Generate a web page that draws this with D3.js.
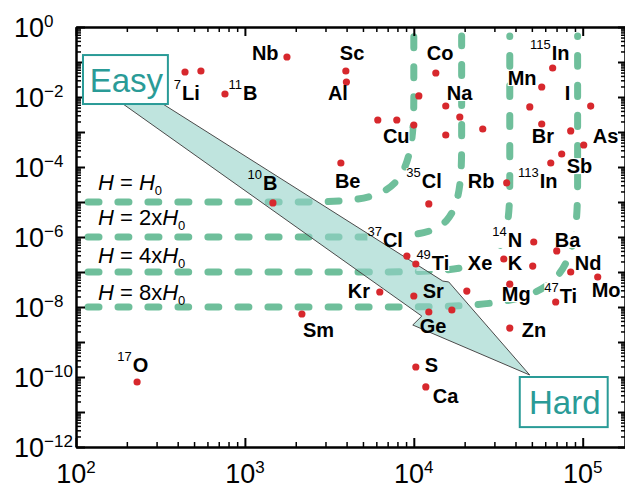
<!DOCTYPE html>
<html>
<head>
<meta charset="utf-8">
<script src="https://cdn.jsdelivr.net/npm/d3@7/dist/d3.min.js"></script>
<style>
  body { margin: 0; background: #fff; }
  svg { display: block; }
  text { font-family: 'Liberation Sans', Arial, sans-serif; }
</style>
</head>
<body>
<div id="chart-1"></div>
<script>
// red points, [x, y]
let points = [
  [442, 0.0518], [549, 0.0553], [762, 0.0122], [1774, 0.139], [1465, 9.4e-6],
  [3960, 0.0553], [3990, 0.0268], [6120, 2.2e-3], [7930, 2.2e-3], [10000, 1.58e-3],
  [10710, 0.0107], [13500, 0.0485], [15460, 5.53e-3], [18720, 2.68e-3], [15460, 8.2e-4],
  [25600, 1.22e-3], [3700, 1.3e-4], [12270, 8.8e-6], [35500, 3.5e-5], [64700, 1.3e-4],
  [57200, 0.0193], [66400, 0.0674], [111500, 5.5e-3], [48600, 5.2e-3], [57200, 1.69e-3],
  [84900, 1.07e-3], [101400, 4.25e-4], [75100, 2.35e-4], [51300, 7.2e-7], [70200, 4.0e-7],
  [9100, 2.86e-7], [10280, 1.69e-7], [34100, 2.35e-7], [50600, 1.48e-7], [84900, 1e-7],
  [122700, 7.2e-8], [37000, 4.5e-8], [69200, 1.39e-8], [6290, 2.68e-8], [10000, 2.06e-8],
  [20600, 2.86e-8], [12270, 7.2e-9], [16800, 8.2e-9], [2175, 6.3e-9], [37000, 2.5e-9],
  [10280, 1.93e-10], [11780, 5.2e-11], [230, 7.2e-11]
]

// element names: [mass number, symbol, x, y of the label]
let elements = [
  ['', 'Nb', 1100, 0.114], ['', 'Sc', 3650, 0.114], ['', 'Co', 11940, 0.114],
  ['115', 'In', 65600, 0.114], ['7', 'Li', 424, 8.2e-3], ['11', 'B', 973, 8.2e-3],
  ['', 'Al', 3100, 8.2e-3], ['', 'Na', 15680, 8.2e-3], ['', 'Mn', 35970, 0.022],
  ['', 'I', 78200, 8.2e-3], ['', 'Cu', 6560, 4.85e-4], ['', 'Br', 49900, 4.85e-4],
  ['', 'As', 114600, 4.85e-4], ['', 'Sb', 80400, 6.7e-5], ['10', 'B', 1278, 2.2e-5],
  ['', 'Be', 3410, 2.5e-5], ['35', 'Cl', 11150, 2.5e-5], ['', 'Rb', 20880, 2.5e-5],
  ['113', 'In', 55700, 2.5e-5], ['37', 'Cl', 6560, 5.2e-7], ['14', 'N', 35970, 5.2e-7],
  ['', 'Ba', 68300, 5.2e-7], ['49', 'Ti', 12790, 1.14e-7], ['', 'Xe', 20880, 1.14e-7],
  ['', 'K', 35970, 1.14e-7], ['', 'Nd', 89700, 1.14e-7], ['', 'Mo', 113000, 1.93e-8],
  ['', 'Kr', 4070, 1.81e-8], ['', 'Sr', 11300, 1.81e-8], ['', 'Mg', 33200, 1.48e-8],
  ['47', 'Ti', 73100, 1.3e-8], ['', 'Sm', 2205, 1.39e-9], ['', 'Ge', 10850, 1.81e-9],
  ['', 'Zn', 43550, 1.39e-9], ['', 'S', 11610, 1.39e-10], ['', 'Ca', 12950, 1.81e-11],
  ['17', 'O', 217, 1.39e-10]
]

// H = n x H0 boundaries
let fieldLevels = ['', '2x', '4x', '8x']
let fieldLabelPos = [[135, 2.2e-5], [135, 2.2e-6], [135, 1.81e-7], [135, 1.58e-8]]
let fieldCurves = [
  [[100, 1e-5], [2265, 1e-5], [1e4, 1e-5], [1e4, 0.0268], [1e4, 0.55]],
  [[100, 1e-6], [5640, 1e-6], [19200, 1e-6], [19200, 7.2e-4], [19200, 0.55]],
  [[100, 1e-7], [7210, 1e-7], [37000, 1e-7], [37000, 3.73e-5], [37000, 0.55]],
  [[100, 1e-8], [8040, 1e-8], [93300, 1e-8], [93300, 5.9e-5], [93300, 0.55]]
]

// Easy -> Hard arrow and the two boxes
let arrowShape = [
  [190, 6.3e-3], [327, 6.3e-3], [14850, 5.5e-8], [16100, 5.2e-8],
  [48560, 1.14e-10], [9860, 3.06e-9], [11150, 5.5e-9]
]
let boxes = [
  ['Easy', 110, 0.158, 350, 6.3e-3],
  ['Hard', 42400, 1e-10, 140600, 3.7e-12]
]

let xTickExp = [2, 3, 4, 5]
let yTickExp = [0, -2, -4, -6, -8, -10, -12]

let margin = { top: 27, left: 76, right: 0, bottom: 41 }
let width = 625 - margin.left - margin.right
let height = 488 - margin.top - margin.bottom

let svg = d3
  .select('#chart-1')
  .append('svg')
  .attr('width', 625)
  .attr('height', 488)
  .append('g')
  .attr('transform', 'translate(' + margin.left + ',' + margin.top + ')')

let xPositionScale = d3.scaleLog().domain([1e2, 1.78e5]).range([0, width])
let yPositionScale = d3.scaleLog().domain([1e-12, 1]).range([height, 0])

let green = '#6fbf9b'
let teal = '#2a9b97'
let narrow = "'Liberation Sans Narrow', 'Liberation Sans', Arial, sans-serif"

// dashed boundaries
let line = d3
  .line()
  .x(d => xPositionScale(d[0]))
  .y(d => yPositionScale(d[1]))
  .curve(d3.curveBasis)

svg
  .append('g')
  .selectAll('path')
  .data(fieldCurves)
  .enter()
  .append('path')
  .attr('d', line)
  .attr('fill', 'none')
  .attr('stroke', green)
  .attr('stroke-width', 7)
  .attr('stroke-linecap', 'round')
  .attr('stroke-dasharray', '11 19')
  .attr('stroke-dashoffset', 18)

let bgLayer = svg.append('g')

// arrow
let straight = d3
  .line()
  .x(d => xPositionScale(d[0]))
  .y(d => yPositionScale(d[1]))

svg
  .append('path')
  .attr('d', straight(arrowShape) + 'Z')
  .attr('fill', '#94d2c8')
  .attr('fill-opacity', 0.6)
  .attr('stroke', '#4a4a4a')
  .attr('stroke-width', 1)

// axes
let xMajor = xTickExp.map(e => Math.pow(10, e))
let xMinor = xMajor
  .flatMap(m => d3.range(2, 10).map(k => k * m))
  .filter(v => v < 1.78e5)
let yMajor = d3.range(-12, 1).map(e => Math.pow(10, e))
let yMinor = yMajor.slice(0, -1).flatMap(m => d3.range(2, 10).map(k => k * m))

function drawAxis(axisFn, scale, values, size, transform) {
  let g = svg
    .append('g')
    .attr('transform', transform)
    .call(
      axisFn(scale)
        .tickValues(values)
        .tickSize(-size)
        .tickSizeOuter(0)
        .tickFormat('')
    )
  g.select('.domain').attr('stroke', '#000').attr('stroke-width', 2)
  g.selectAll('.tick line').attr('stroke', '#000').attr('stroke-width', size > 6 ? 2 : 1.5)
}

drawAxis(d3.axisBottom, xPositionScale, xMinor, 5, 'translate(0,' + height + ')')
drawAxis(d3.axisBottom, xPositionScale, xMajor, 9, 'translate(0,' + height + ')')
drawAxis(d3.axisTop, xPositionScale, xMinor, 5, 'translate(0,0)')
drawAxis(d3.axisTop, xPositionScale, xMajor, 9, 'translate(0,0)')
drawAxis(d3.axisLeft, yPositionScale, yMinor, 5, 'translate(0,0)')
drawAxis(d3.axisLeft, yPositionScale, yMajor, 9, 'translate(0,0)')
drawAxis(d3.axisRight, yPositionScale, yMinor, 4, 'translate(' + width + ',0)')
drawAxis(d3.axisRight, yPositionScale, yMajor, 7, 'translate(' + width + ',0)')

svg
  .append('g')
  .selectAll('text')
  .data(xTickExp)
  .enter()
  .append('text')
  .attr('x', d => xPositionScale(Math.pow(10, d)))
  .attr('y', height + 36)
  .attr('text-anchor', 'middle')
  .style('font-family', narrow)
  .attr('font-size', 27)
  .each(function (d) {
    let t = d3.select(this)
    t.append('tspan').text('10')
    t.append('tspan').attr('dy', -10).attr('font-size', 17).text(d)
  })

svg
  .append('g')
  .selectAll('text')
  .data(yTickExp)
  .enter()
  .append('text')
  .attr('x', -62)
  .attr('y', d => yPositionScale(Math.pow(10, d)) + 10)
  .style('font-family', narrow)
  .attr('font-size', 27)
  .each(function (d) {
    let t = d3.select(this)
    t.append('tspan').text('10')
    t.append('tspan')
      .attr('dy', -10)
      .attr('font-size', 17)
      .text(d < 0 ? '\u2212' + -d : d)
  })

// field labels
svg
  .append('g')
  .selectAll('text')
  .data(fieldLevels)
  .enter()
  .append('text')
  .attr('x', (d, i) => xPositionScale(fieldLabelPos[i][0]))
  .attr('y', (d, i) => yPositionScale(fieldLabelPos[i][1]))
  .attr('font-size', 22)
  .style('white-space', 'pre')
  .each(function (d) {
    let t = d3.select(this)
    t.append('tspan').attr('font-style', 'italic').text('H')
    t.append('tspan').text(' = ' + d)
    t.append('tspan').attr('font-style', 'italic').text('H')
    t.append('tspan').attr('dy', 5).attr('font-size', 13).text('0')
  })

// Easy / Hard boxes
let boxG = svg
  .append('g')
  .selectAll('g')
  .data(boxes)
  .enter()
  .append('g')

boxG
  .append('rect')
  .attr('x', d => xPositionScale(d[1]))
  .attr('y', d => yPositionScale(d[2]))
  .attr('width', d => xPositionScale(d[3]) - xPositionScale(d[1]))
  .attr('height', d => yPositionScale(d[4]) - yPositionScale(d[2]))
  .attr('fill', '#fff')
  .attr('stroke', teal)
  .attr('stroke-width', 2)

boxG
  .append('text')
  .attr('x', d => (xPositionScale(d[1]) + xPositionScale(d[3])) / 2 + 1)
  .attr('y', d => (yPositionScale(d[2]) + yPositionScale(d[4])) / 2 + 12)
  .attr('text-anchor', 'middle')
  .style('font-family', narrow)
  .attr('font-size', 33)
  .attr('fill', teal)
  .text(d => d[0])

// points
svg
  .append('g')
  .selectAll('circle')
  .data(points)
  .enter()
  .append('circle')
  .attr('r', 3.6)
  .attr('fill', '#d7282d')
  .attr('cx', d => xPositionScale(d[0]))
  .attr('cy', d => yPositionScale(d[1]))

// element labels
let labels = svg
  .append('g')
  .selectAll('g')
  .data(elements)
  .enter()
  .append('g')
  .attr('transform', d => 'translate(' + xPositionScale(d[2]) + ',' + yPositionScale(d[3]) + ')')

labels
  .append('text')
  .attr('font-weight', 'bold')
  .attr('font-size', 20)
  .text(d => d[1])

labels
  .append('text')
  .attr('x', -1)
  .attr('y', -11)
  .attr('text-anchor', 'end')
  .attr('font-size', 13)
  .text(d => d[0])

// the dashes stop behind the names in the original
labels.each(function () {
  let b = this.getBBox()
  bgLayer
    .append('rect')
    .attr('transform', d3.select(this).attr('transform'))
    .attr('x', b.x)
    .attr('y', b.y + 3)
    .attr('width', b.width)
    .attr('height', b.height - 6)
    .attr('fill', '#fff')
})
</script>
</body>
</html>
